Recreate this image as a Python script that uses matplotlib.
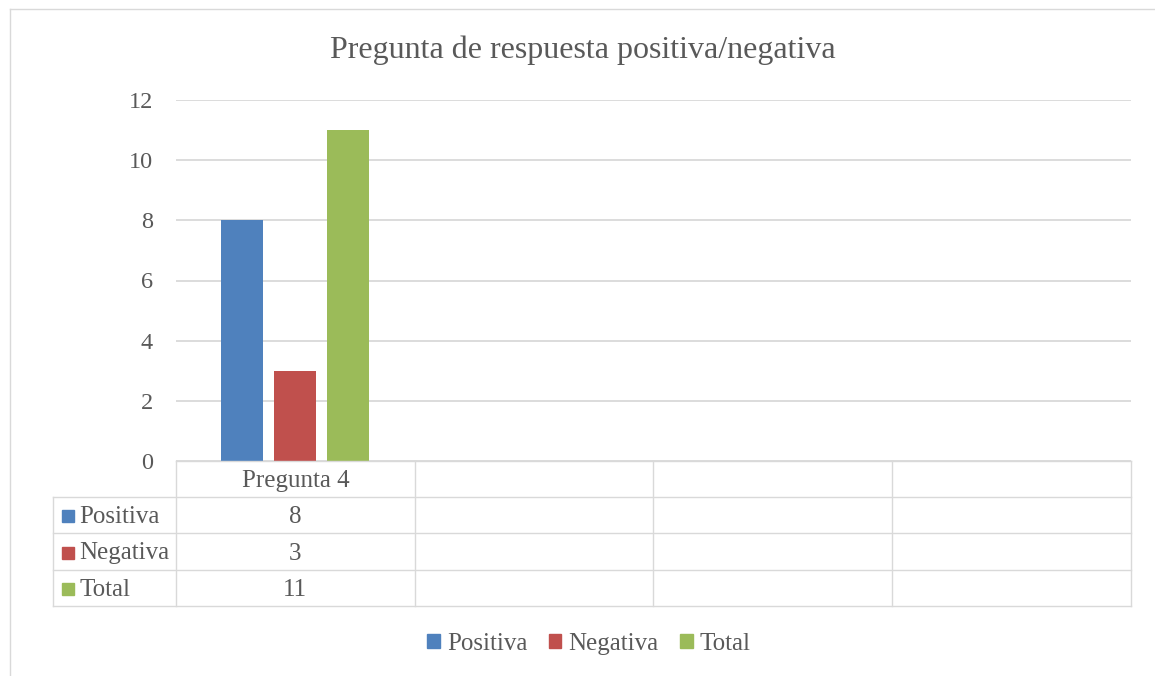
import numpy as np
import matplotlib.pyplot as plt
from matplotlib.lines import Line2D
from matplotlib.patches import Rectangle

categories = ['Pregunta 4', '', '', '']
series = ['Positiva', 'Negativa', 'Total']
values = [[8], [3], [11]]
colors = ['#4F81BD', '#C0504D', '#9BBB59']
yticks = [0, 2, 4, 6, 8, 10, 12]
title = 'Pregunta de respuesta positiva/negativa'

W, H = 1155, 676
txt = '#595959'
grid = '#D9D9D9'
plt.rcParams['font.family'] = ['Liberation Serif', 'DejaVu Serif']

fig = plt.figure(figsize=(W / 100, H / 100), dpi=100)


def fx(px):
    return px / W


def fy(py):
    return 1 - py / H


def hline(y, x0, x1, c=grid, lw=1.0):
    fig.add_artist(Line2D([fx(x0), fx(x1)], [fy(y), fy(y)], color=c, lw=lw))


def vline(x, y0, y1, c=grid, lw=1.0):
    fig.add_artist(Line2D([fx(x), fx(x)], [fy(y0), fy(y1)], color=c, lw=lw))


# outer chart border
hline(9, 10, W + 5, c='#D9D9D9')
vline(10, 9, H + 5, c='#D9D9D9')

left, right, top, bottom = 176, 1131, 100, 461
ax = fig.add_axes([fx(left), fy(bottom), fx(right - left), (bottom - top) / H])
ncat = len(categories)
bw = 0.176
step = 0.222
for i, (name, vals) in enumerate(zip(series, values)):
    xs = np.arange(len(vals)) + 0.5 + (i - 1) * step
    ax.bar(xs, vals, width=bw, color=colors[i], zorder=3)
ax.set_xlim(0, ncat)
ax.set_ylim(0, 12)
ax.set_yticks(yticks)
ax.set_yticklabels([str(t) for t in yticks], fontsize=17.5, color=txt)
ax.tick_params(axis='y', length=0, pad=16.5)
ax.set_xticks([])
ax.grid(axis='y', color=grid, lw=1.3, zorder=0)
for s in ax.spines.values():
    s.set_visible(False)

fig.text(fx(583), fy(50), title, ha='center', va='center', fontsize=23, color=txt,
         family=['Liberation Serif'])

# data table
row_y = [461, 497, 533, 570, 606]
col_x = [left + k * (right - left) / ncat for k in range(ncat + 1)]
lab_x = 53
hline(row_y[0], left, right)
for y in row_y[1:]:
    hline(y, lab_x, right)
for x in col_x:
    vline(x, row_y[0], row_y[-1])
vline(lab_x, row_y[1], row_y[-1])

fs = 18
for k, c in enumerate(categories):
    if c:
        cx = (col_x[k] + col_x[k + 1]) / 2
        fig.text(fx(cx), fy((row_y[0] + row_y[1]) / 2 + 2), c, ha='center', va='center',
                 fontsize=fs, color=txt)

for i, name in enumerate(series):
    yc = (row_y[i + 1] + row_y[i + 2]) / 2 + 2
    fig.add_artist(Rectangle((fx(62), fy(yc + 5)), fx(12), 12 / H, color=colors[i]))
    fig.text(fx(79), fy(yc), name, ha='left', va='center', fontsize=fs, color=txt)
    for k, v in enumerate(values[i]):
        cx = (col_x[k] + col_x[k + 1]) / 2
        fig.text(fx(cx), fy(yc), str(v), ha='center', va='center', fontsize=fs, color=txt)

# legend
leg = ax.legend(handles=[Rectangle((0, 0), 1, 1, color=c) for c in colors], labels=series,
                loc='center', bbox_to_anchor=(fx(589), fy(644)), bbox_transform=fig.transFigure,
                ncol=3, frameon=False, fontsize=18, handlelength=0.5, handleheight=0.5,
                handletextpad=0.3, columnspacing=0.85, labelcolor=txt)

fig.savefig('out.png', dpi=100)
